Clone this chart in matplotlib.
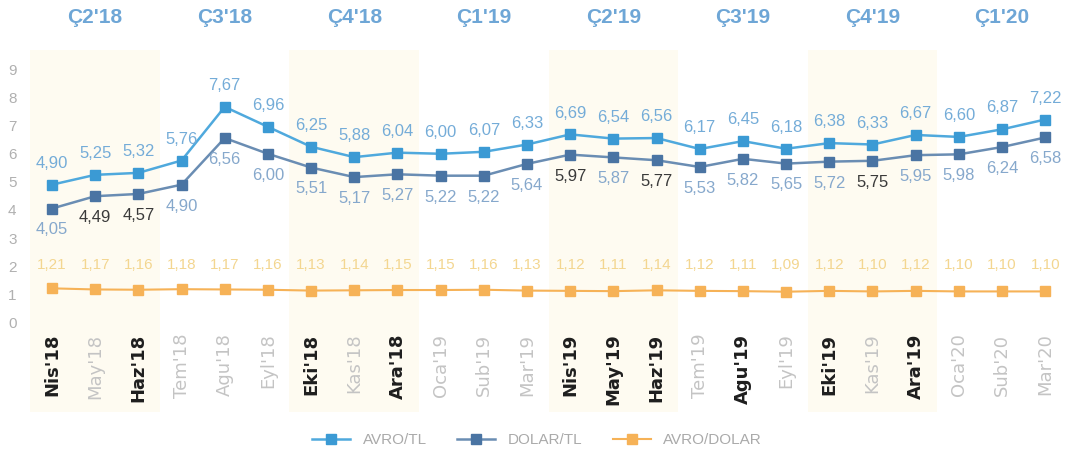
import matplotlib.pyplot as plt

plt.rcParams['font.family'] = ['Liberation Sans', 'DejaVu Sans']

months = ["Nis'18", "May'18", "Haz'18", "Tem'18", "Agu'18", "Eyl'18",
          "Eki'18", "Kas'18", "Ara'18", "Oca'19", "Sub'19", "Mar'19",
          "Nis'19", "May'19", "Haz'19", "Tem'19", "Agu'19", "Eyl'19",
          "Eki'19", "Kas'19", "Ara'19", "Oca'20", "Sub'20", "Mar'20"]
quarters = ["Ç2'18", "Ç3'18", "Ç4'18", "Ç1'19", "Ç2'19", "Ç3'19", "Ç4'19", "Ç1'20"]

avro_tl = [4.90, 5.25, 5.32, 5.76, 7.67, 6.96, 6.25, 5.88, 6.04, 6.00, 6.07, 6.33,
           6.69, 6.54, 6.56, 6.17, 6.45, 6.18, 6.38, 6.33, 6.67, 6.60, 6.87, 7.22]
dolar_tl = [4.05, 4.49, 4.57, 4.90, 6.56, 6.00, 5.51, 5.17, 5.27, 5.22, 5.22, 5.64,
            5.97, 5.87, 5.77, 5.53, 5.82, 5.65, 5.72, 5.75, 5.95, 5.98, 6.24, 6.58]
avro_dolar = [1.21, 1.17, 1.16, 1.18, 1.17, 1.16, 1.13, 1.14, 1.15, 1.15, 1.16, 1.13,
              1.12, 1.11, 1.14, 1.12, 1.11, 1.09, 1.12, 1.10, 1.12, 1.10, 1.10, 1.10]

# months printed bold/black on the scan
bold_months = ["Nis'18", "Haz'18", "Eki'18", "Ara'18", "Nis'19", "May'19",
               "Haz'19", "Agu'19", "Eki'19", "Ara'19"]
dark_dolar = [1, 2, 12, 14, 19]

c_avro = '#4fa9dd'
c_dolar = '#4a74a3'
c_ad = '#f6b257'

fig = plt.figure(figsize=(10.74, 4.53), dpi=100)
ax = fig.add_axes([0.0283, 0.09, 0.965, 0.80])
x = list(range(len(months)))

# shaded quarters
for q in range(0, len(quarters), 2):
    ax.axvspan(q * 3 - 0.5, q * 3 + 2.5, color='#fefbf1', lw=0, zorder=0)

ax.plot(x, avro_tl, color=c_avro, lw=1.8, marker='s', ms=7,
        mfc='#3b9ad4', mec='#3b9ad4', label='AVRO/TL', zorder=3)
ax.plot(x, dolar_tl, color='#6a8db3', lw=1.8, marker='s', ms=7,
        mfc=c_dolar, mec=c_dolar, label='DOLAR/TL', zorder=3)
ax.plot(x, avro_dolar, color=c_ad, lw=1.5, marker='s', ms=6.5,
        mfc=c_ad, mec=c_ad, label='AVRO/DOLAR', zorder=3)

for i in x:
    ax.annotate(f"{avro_tl[i]:.2f}".replace('.', ','), (i, avro_tl[i]),
                xytext=(0, 10), textcoords='offset points', ha='center', va='bottom',
                fontsize=12, color='#74acd8')
    dc = '#3a3a3a' if i in dark_dolar else '#86a8cc'
    ax.annotate(f"{dolar_tl[i]:.2f}".replace('.', ','), (i, dolar_tl[i]),
                xytext=(0, -10), textcoords='offset points', ha='center', va='top',
                fontsize=12, color=dc)
    ax.text(i, 2.05, f"{avro_dolar[i]:.2f}".replace('.', ','), ha='center', va='center',
            fontsize=11, color='#f3d690')
    bold = months[i] in bold_months
    ax.text(i, -0.4, months[i], rotation=90, ha='center', va='top',
            fontsize=13, fontweight='bold' if bold else 'normal',
            color='#1e1e1e' if bold else '#c4c4c4', family='DejaVu Sans')

for q, name in enumerate(quarters):
    ax.text(q * 3 + 1, 1.09, name, transform=ax.get_xaxis_transform(),
            ha='center', va='center', fontsize=15, fontweight='bold', color='#6ea6d6')

ax.set_xlim(-0.5, 23.5)
ax.set_ylim(-3.2, 9.7)
ax.set_yticks(range(10))
ax.set_xticks([])
ax.tick_params(axis='y', length=0, pad=10, labelsize=11, labelcolor='#b0b0b0')
for s in ax.spines.values():
    s.set_visible(False)

fig.legend(loc='lower center', bbox_to_anchor=(0.5, -0.018), ncol=3, frameon=False,
           fontsize=11, labelcolor='#aaaaaa', handlelength=2.5, columnspacing=2.0)

fig.savefig('out.png', dpi=100)
